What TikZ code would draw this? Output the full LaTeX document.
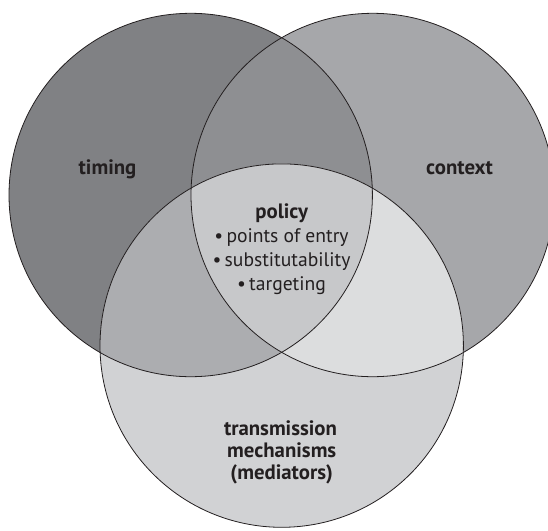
\documentclass[tikz,border=0pt]{standalone}
\usepackage{fontspec}
\setmainfont{PT Sans}
\definecolor{timingfill}{HTML}{808184}
\definecolor{contextfill}{HTML}{A6A7AA}
\definecolor{mediatorfill}{HTML}{D1D2D4}
\definecolor{timcon}{HTML}{8E8F92}
\definecolor{timmed}{HTML}{ACADB0}
\definecolor{conmed}{HTML}{DCDDDE}
\definecolor{policyfill}{HTML}{C7C8CA}
\definecolor{inkgray}{HTML}{231F20}
\begin{document}
\begin{tikzpicture}[x=1pt,y=-1pt,
    ring/.style={draw=inkgray, line width=0.8pt},
    bigtext/.style={font=\fontsize{20.8}{22}\selectfont\bfseries, text=inkgray, align=center},
    listtext/.style={font=\fontsize{19.6}{24.3}\selectfont, text=inkgray, align=center}]
    \useasboundingbox (0,0) rectangle (548,530);
    %\draw[help lines, color=gray!30, dashed] (0,0) grid[step=50pt] (548,530);
    \coordinate (tim) at (190.7,195);
    \coordinate (con) at (372.7,195);
    \coordinate (med) at (281.7,345.6);
    % single discs
    \fill[timingfill] (tim) circle (181.7pt);
    \fill[contextfill] (con) circle (181.7pt);
    \fill[mediatorfill] (med) circle (181.7pt);
    % pairwise overlaps
    \begin{scope}
        \clip (tim) circle (181.7pt);
        \fill[timcon] (con) circle (181.7pt);
        \fill[timmed] (med) circle (181.7pt);
    \end{scope}
    \begin{scope}
        \clip (con) circle (181.7pt);
        \fill[conmed] (med) circle (181.7pt);
    \end{scope}
    % centre
    \begin{scope}
        \clip (tim) circle (181.7pt);
        \clip (con) circle (181.7pt);
        \fill[policyfill] (med) circle (181.7pt);
    \end{scope}
    \draw[ring] (tim) circle (181.7pt);
    \draw[ring] (con) circle (181.7pt);
    \draw[ring] (med) circle (181.7pt);
    \node[bigtext, anchor=base] (timing) at (107.5,174) {timing};
    \node[bigtext, anchor=base] (context) at (459.5,174) {context};
    \node[bigtext, anchor=base] (policy) at (281.7,218) {policy};
    \node[listtext, anchor=base] (entry) at (281.5,242.7) {\textbullet\,points of entry};
    \node[listtext, anchor=base] (subst) at (281.5,266.7) {\textbullet\,substitutability};
    \node[listtext, anchor=base] (target) at (281.5,290.7) {\textbullet\,targeting};
    \node[bigtext, anchor=base] (trans) at (280.5,435) {transmission};
    \node[bigtext, anchor=base] (mech) at (281.7,457.3) {mechanisms};
    \node[bigtext, anchor=base] (mediat) at (281.7,479.5) {(mediators)};
\end{tikzpicture}
\end{document}
